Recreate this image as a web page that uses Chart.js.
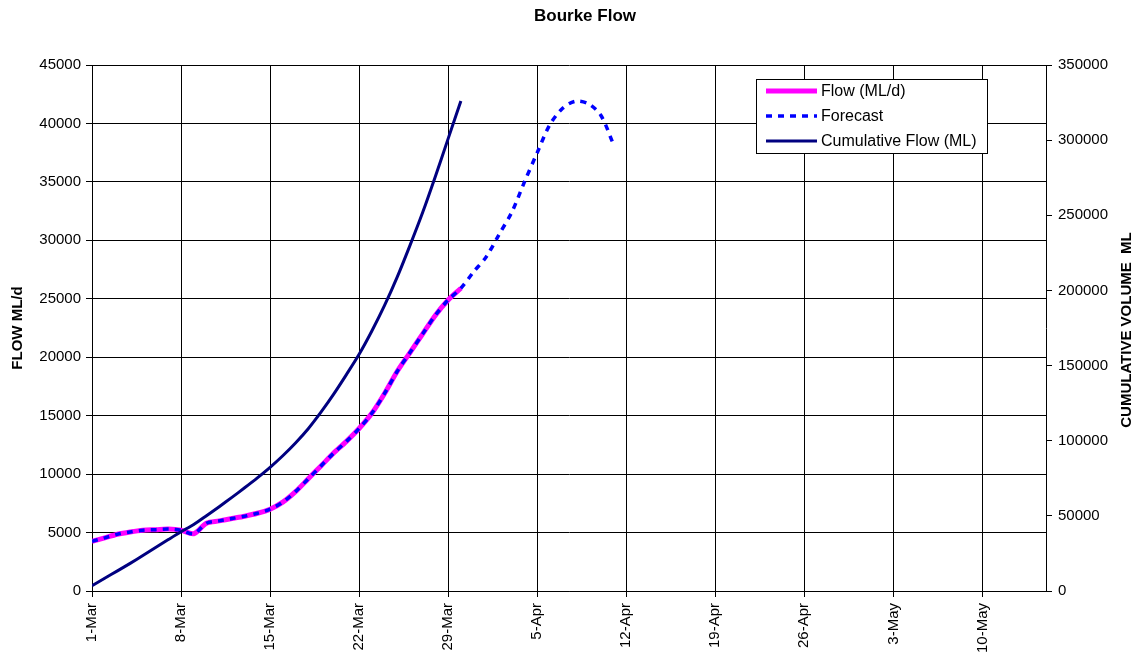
<!DOCTYPE html>
<html>
<head>
<meta charset="utf-8">
<title>Bourke Flow</title>
<script src="https://cdn.jsdelivr.net/npm/chart.js@4.4.1/dist/chart.umd.min.js"></script>
<style>
  html, body { margin: 0; padding: 0; background: #fff; }
  #wrap { width: 1142px; height: 662px; }
</style>
</head>
<body>
<div id="wrap"><canvas id="flowChart" width="1142" height="662"></canvas></div>
<script>
// x axis: days since 1-Mar, one tick label per week
const xTickLabels = ['1-Mar', '8-Mar', '15-Mar', '22-Mar', '29-Mar', '5-Apr',
                     '12-Apr', '19-Apr', '26-Apr', '3-May', '10-May'];

// observed daily flow (ML/d), 1-Mar .. 30-Mar
const flow = [4250, 4550, 4850, 5050, 5200, 5250, 5300, 5200, 4900, 5800,
              6000, 6200, 6400, 6650, 7000, 7600, 8500, 9600, 10700, 11800,
              12800, 13900, 15200, 16900, 18800, 20400, 22000, 23600, 24900, 25900];

// forecast flow beyond the observed record, 31-Mar .. 11-Apr
const forecastAhead = [27300, 28600, 30500, 32400, 35000, 37500,
                       39900, 41300, 41900, 41700, 40700, 38200];

// cumulative flow (ML), 1-Mar .. 30-Mar
const cumulative = [3500, 8500, 13400, 18400, 23600, 28900, 34200, 39400, 44300, 50100,
                    56100, 62300, 68700, 75300, 82300, 90000, 98500, 108000, 119000, 131000,
                    144000, 157500, 173000, 190000, 209000, 230000, 252000, 276000, 301000, 326000];

const FONT = "'Liberation Sans', Arial, sans-serif";
Chart.defaults.color = '#000';
Chart.defaults.font.family = FONT;

const toPoints = arr => arr.map((v, i) => ({ x: i, y: v }));
const forecast = flow.concat(forecastAhead);

// title, right-hand axis title (reads bottom to top) and the boxed legend
const decorations = {
  id: 'decorations',
  afterDraw(chart) {
    const ctx = chart.ctx;
    ctx.save();
    ctx.fillStyle = '#000';
    ctx.textBaseline = 'middle';

    ctx.font = 'bold 17px ' + FONT;
    ctx.textAlign = 'center';
    ctx.fillText('Bourke Flow', 585, 16);

    ctx.save();
    ctx.translate(1127, 330);
    ctx.rotate(-Math.PI / 2);
    ctx.font = 'bold 15px ' + FONT;
    ctx.fillText('CUMULATIVE VOLUME  ML', 0, 0);
    ctx.restore();

    // legend
    ctx.fillStyle = '#fff';
    ctx.fillRect(756, 79, 231, 74);
    ctx.strokeStyle = '#000';
    ctx.lineWidth = 1;
    ctx.strokeRect(756.5, 79.5, 231, 74);

    const rows = [91, 116, 141];
    chart.data.datasets.forEach((ds, i) => {
      const y = rows[i];
      ctx.beginPath();
      ctx.strokeStyle = ds.borderColor;
      ctx.lineWidth = ds.borderWidth;
      ctx.setLineDash(ds.borderDash || []);
      ctx.moveTo(766, y);
      ctx.lineTo(817, y);
      ctx.stroke();
      ctx.setLineDash([]);
      ctx.fillStyle = '#000';
      ctx.font = '16px ' + FONT;
      ctx.textAlign = 'left';
      ctx.fillText(ds.label, 821, y + 1);
    });
    ctx.restore();
  }
};

new Chart(document.getElementById('flowChart'), {
  type: 'line',
  data: {
    datasets: [
      {
        label: 'Flow (ML/d)',
        data: toPoints(flow),
        yAxisID: 'y',
        borderColor: '#ff00ff',
        borderWidth: 5,
        pointRadius: 0,
        tension: 0.3,
        order: 3
      },
      {
        label: 'Forecast',
        data: toPoints(forecast),
        yAxisID: 'y',
        borderColor: '#0000ff',
        borderWidth: 3.5,
        borderDash: [6, 6],
        pointRadius: 0,
        tension: 0.3,
        order: 2
      },
      {
        label: 'Cumulative Flow (ML)',
        data: toPoints(cumulative),
        yAxisID: 'y2',
        borderColor: '#000080',
        borderWidth: 3,
        pointRadius: 0,
        tension: 0.3,
        order: 1
      }
    ]
  },
  options: {
    responsive: false,
    animation: false,
    devicePixelRatio: 1,
    layout: { padding: { top: 65, left: 0, right: 0, bottom: 0 } },
    plugins: {
      legend: { display: false },
      title: { display: false },
      tooltip: { enabled: false }
    },
    scales: {
      x: {
        type: 'linear',
        min: 0,
        max: 75,
        afterBuildTicks: s => { s.ticks = s.ticks.filter(t => t.value % 7 === 0); },
        afterFit: s => { s.height = 71; },
        ticks: {
          stepSize: 7,
          autoSkip: false,
          minRotation: 90,
          maxRotation: 90,
          padding: 6,
          font: { size: 15 },
          callback: v => xTickLabels[v / 7]
        },
        grid: { color: '#000', lineWidth: 1, tickLength: 6 },
        border: { color: '#000', width: 1 }
      },
      y: {
        position: 'left',
        min: 0,
        max: 45000,
        afterFit: s => { s.width = 92; },
        ticks: {
          stepSize: 5000,
          padding: 5,
          font: { size: 15 },
          callback: v => String(v)
        },
        grid: { color: '#000', lineWidth: 1, tickLength: 6 },
        border: { color: '#000', width: 1 },
        title: {
          display: true,
          text: 'FLOW ML/d',
          font: { size: 15, weight: 'bold' },
          padding: { top: 9, bottom: 0 }
        }
      },
      y2: {
        position: 'right',
        min: 0,
        max: 350000,
        afterFit: s => { s.width = 96; },
        ticks: {
          stepSize: 50000,
          padding: 6,
          font: { size: 15 },
          callback: v => String(v)
        },
        grid: { drawOnChartArea: false, color: '#000', lineWidth: 1, tickLength: 6 },
        border: { color: '#000', width: 1 }
      }
    }
  },
  plugins: [decorations]
});
</script>
</body>
</html>
